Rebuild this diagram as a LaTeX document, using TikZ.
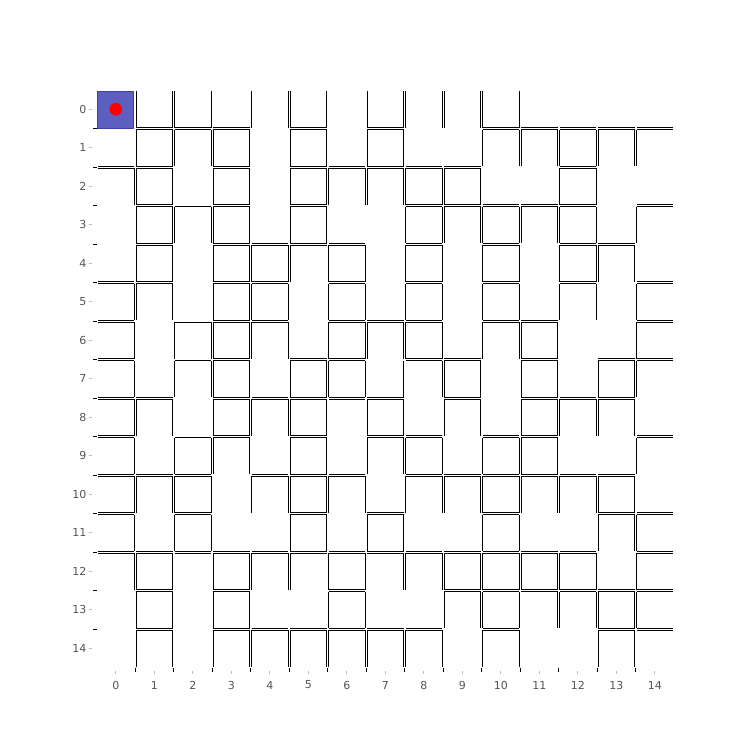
\documentclass[tikz,border=0pt]{standalone}
\usepackage{fontspec}
\setmainfont{DejaVu Sans}
\definecolor{cellblue}{RGB}{92,95,192}
\definecolor{celledge}{RGB}{62,64,170}
\definecolor{labgray}{RGB}{85,85,85}
\definecolor{tickgray}{RGB}{190,190,190}
\begin{document}
\begin{tikzpicture}[x=1pt,y=-1pt,
  wall/.style={line width=1pt, black, line cap=butt},
  lab/.style={font=\fontsize{11}{13}\selectfont, text=labgray, inner sep=0pt},
  majortick/.style={line width=0.8pt, tickgray},
  minortick/.style={line width=0.8pt, black}]
\useasboundingbox (0,0) rectangle (750,750);
\fill[white] (0,0) rectangle (750,750);
% start cell and agent
\node (start) [draw=celledge, fill=cellblue, line width=0.6pt, minimum width=36pt, minimum height=37pt, inner sep=0pt, anchor=north west] at (96.9,90.6) {};
\node (agent) [circle, fill=red, minimum size=12.6pt, inner sep=0pt] at (115.75,109.25) {};
% vertical walls: row / codes for boundaries 1..14 (1 = left cell, 2 = right cell, 3 = both)
\foreach \r/\codes in {
 0/{2,3,1,2,3,1,2,3,3,3,1,0,0,0},
 1/{2,3,3,1,2,1,2,1,0,2,3,3,3,3},
 2/{3,1,2,1,2,3,3,3,3,1,0,2,1,0},
 3/{2,3,3,1,2,1,0,2,3,3,3,3,1,2},
 4/{2,1,2,3,3,2,1,2,1,2,1,2,3,1},
 5/{3,1,2,3,1,2,1,2,1,2,1,2,1,2},
 6/{1,2,3,3,1,2,3,3,1,2,3,1,0,2},
 7/{1,2,3,1,2,3,1,1,3,1,2,1,2,3},
 8/{3,1,2,3,3,1,2,1,2,1,2,3,3,1},
 9/{1,2,3,1,2,1,2,3,1,2,3,1,0,2},
 10/{3,3,1,2,3,3,1,2,3,3,3,3,3,1},
 11/{1,2,1,0,2,1,2,1,0,2,1,0,2,3},
 12/{3,1,2,3,3,2,1,3,3,3,3,3,1,2},
 13/{2,1,2,1,0,2,1,0,2,3,1,3,3,3},
 14/{2,1,2,3,3,3,3,3,1,2,1,0,2,1}} {
  \foreach \c [count=\j] in \codes {
    \pgfmathsetmacro\xb{96.5+\j*38.5}
    \pgfmathsetmacro\ya{90+\r*38.5+1}
    \pgfmathsetmacro\yb{90+(\r+1)*38.5-1}
    \ifodd\c\relax \draw[wall] ({\xb-1},\ya) -- ({\xb-1},\yb);\fi
    \ifnum\c>1\relax \draw[wall] ({\xb+1},\ya) -- ({\xb+1},\yb);\fi
  }
}
% horizontal walls: boundary / codes for columns 0..14 (1 = upper cell, 2 = lower cell, 3 = both)
\foreach \i/\codes in {
 1/{0,3,3,3,0,3,0,3,0,0,3,3,3,3,3},
 2/{3,3,0,3,0,3,3,3,3,3,0,0,3,0,0},
 3/{0,3,2,3,0,3,0,0,3,3,3,3,3,0,3},
 4/{0,3,0,3,3,3,3,0,3,0,3,0,3,3,0},
 5/{3,3,0,3,3,0,3,0,3,0,3,0,3,0,3},
 6/{3,0,2,3,3,0,3,3,3,0,3,3,0,0,3},
 7/{3,0,2,3,0,3,3,0,3,3,0,3,0,3,3},
 8/{3,3,0,3,3,3,3,3,0,3,0,3,3,3,0},
 9/{3,0,2,3,0,3,0,3,3,0,3,3,0,0,3},
 10/{3,3,3,0,3,3,3,0,3,3,3,3,3,3,0},
 11/{3,0,3,0,0,3,0,3,0,0,3,0,0,3,3},
 12/{3,3,3,3,3,3,3,3,3,3,3,3,3,0,3},
 13/{0,3,0,3,0,0,3,0,0,3,3,3,3,3,3},
 14/{0,3,0,3,3,3,3,3,3,0,3,0,0,3,3}} {
  \foreach \c [count=\k from 0] in \codes {
    \pgfmathsetmacro\yb{90+\i*38.5}
    \pgfmathsetmacro\xa{96.5+\k*38.5+1}
    \pgfmathsetmacro\xc{96.5+(\k+1)*38.5-1}
    \ifodd\c\relax \draw[wall] (\xa,{\yb-1}) -- (\xc,{\yb-1});\fi
    \ifnum\c>1\relax \draw[wall] (\xa,{\yb+1}) -- (\xc,{\yb+1});\fi
  }
}
% axes
\foreach \n in {0,...,14} {
  \node[lab, anchor=east] (ylab\n) at (86.5,{109.25+\n*38.5}) {\n};
  \node[lab] (xlab\n) at ({115.75+\n*38.5},685) {\n};
  \draw[majortick] (88.5,{109.25+\n*38.5}) -- (91.5,{109.25+\n*38.5});
  \draw[majortick] ({115.75+\n*38.5},670.5) -- ({115.75+\n*38.5},673.5);
}
\foreach \n in {1,...,14} {
  \draw[minortick] (93,{90+\n*38.5}) -- (96.5,{90+\n*38.5});
  \draw[minortick] ({96.5+\n*38.5},668) -- ({96.5+\n*38.5},671.5);
}
\end{tikzpicture}
\end{document}
